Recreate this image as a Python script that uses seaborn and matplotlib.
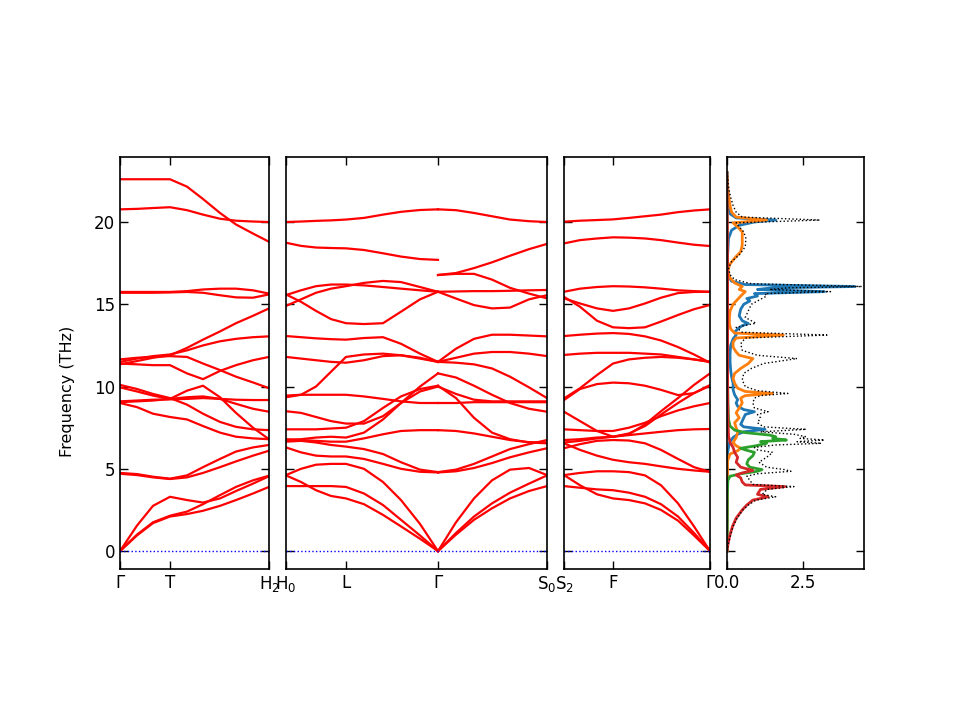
import matplotlib
matplotlib.use("Agg")
import matplotlib.pyplot as plt
import pandas as pd
import seaborn as sns

# ---------------- Panel 1 : Γ – T – H2 ----------------
P1_K = [0.00, 0.17, 0.33, 0.50, 0.67, 0.83, 1.00, 1.16, 1.33, 1.49]
P1_TICKS = [0.00, 0.50, 1.49]
P1_LABELS = ["Γ", "T", "H$_2$"]
P1_AC1 = [0.0, 1.55, 2.75, 3.30, 3.10, 2.95, 3.20, 3.65, 4.10, 4.55]
P1_AC2 = [0.0, 1.00, 1.75, 2.15, 2.40, 2.85, 3.40, 3.90, 4.30, 4.58]
P1_AC3 = [0.0, 0.95, 1.70, 2.10, 2.25, 2.45, 2.75, 3.10, 3.50, 3.90]
P1_O1 = [4.75, 4.68, 4.52, 4.40, 4.60, 5.10, 5.60, 6.05, 6.30, 6.45]
P1_O2 = [4.70, 4.62, 4.48, 4.38, 4.48, 4.75, 5.10, 5.45, 5.80, 6.10]
P1_O3 = [9.00, 8.75, 8.35, 8.15, 8.00, 7.60, 7.20, 6.95, 6.85, 6.80]
P1_O4 = [9.95, 9.70, 9.45, 9.25, 9.75, 10.05, 9.35, 8.40, 7.50, 6.80]
P1_O5 = [10.10, 9.85, 9.55, 9.30, 8.90, 8.35, 7.85, 7.55, 7.40, 7.35]
P1_O6 = [9.10, 9.15, 9.20, 9.22, 9.25, 9.30, 9.25, 9.20, 9.18, 9.18]
P1_O7 = [9.05, 9.10, 9.15, 9.25, 9.35, 9.40, 9.25, 8.95, 8.65, 8.47]
P1_O8 = [11.35, 11.55, 11.75, 11.90, 12.35, 12.85, 13.35, 13.85, 14.30, 14.75]
P1_O9 = [11.50, 11.70, 11.85, 11.95, 12.20, 12.50, 12.75, 12.90, 13.00, 13.05]
P1_O10 = [11.40, 11.35, 11.30, 11.30, 10.80, 10.45, 10.95, 11.30, 11.60, 11.80]
P1_O11 = [11.65, 11.75, 11.80, 11.85, 11.80, 11.40, 11.00, 10.60, 10.25, 9.90]
P1_O12 = [15.75, 15.75, 15.75, 15.75, 15.80, 15.90, 15.95, 15.95, 15.85, 15.65]
P1_O13 = [15.70, 15.70, 15.70, 15.72, 15.75, 15.70, 15.55, 15.42, 15.40, 15.60]
P1_O14 = [20.77, 20.80, 20.85, 20.90, 20.72, 20.45, 20.20, 20.08, 20.03, 20.00]
P1_O15 = [22.60, 22.60, 22.60, 22.60, 22.15, 21.40, 20.55, 19.85, 19.30, 18.80]

# ---------------- Panel 2 : H0 – L – Γ | Γ – S0 ----------------
P2_KA = [0.00, 0.15, 0.30, 0.45, 0.60, 0.78, 0.97, 1.15, 1.34, 1.52]
P2_KB = [1.52, 1.70, 1.88, 2.06, 2.24, 2.43, 2.61]
P2_TICKS = [0.00, 0.60, 1.52, 2.61]
P2_LABELS = ["H$_0$", "L", "Γ", "S$_0$"]
P2_AC3 = ([4.60, 4.20, 3.70, 3.35, 3.20, 2.85, 2.20, 1.50, 0.75, 0.0], [0.0, 1.00, 1.90, 2.60, 3.20, 3.65, 3.95])
P2_AC2 = ([3.95, 3.95, 3.95, 3.95, 3.90, 3.50, 2.80, 1.90, 0.95, 0.0], [0.0, 1.10, 2.10, 2.90, 3.55, 4.10, 4.60])
P2_AC1 = ([4.62, 5.00, 5.25, 5.30, 5.30, 5.00, 4.20, 3.10, 1.65, 0.0], [0.0, 1.75, 3.20, 4.30, 4.95, 5.05, 4.62])
P2_O1 = ([6.30, 6.00, 5.80, 5.75, 5.75, 5.60, 5.30, 5.00, 4.82, 4.78], [4.78, 4.85, 5.05, 5.35, 5.70, 6.00, 6.25])
P2_O2 = ([6.65, 6.70, 6.60, 6.45, 6.35, 6.20, 5.90, 5.40, 4.95, 4.80], [4.80, 4.95, 5.30, 5.75, 6.20, 6.50, 6.75])
P2_O3 = ([6.80, 6.75, 6.70, 6.65, 6.65, 6.85, 7.10, 7.30, 7.35, 7.35], [7.35, 7.30, 7.15, 6.95, 6.75, 6.62, 6.60])
P2_O4 = ([7.40, 7.40, 7.40, 7.45, 7.50, 7.90, 8.70, 9.40, 9.85, 10.05], [10.05, 9.30, 8.10, 7.20, 6.80, 6.60, 6.55])
P2_O5 = ([6.75, 6.80, 6.90, 6.95, 6.90, 7.20, 8.00, 9.00, 10.00, 10.80], [10.80, 10.55, 10.05, 9.50, 9.00, 8.65, 8.47])
P2_O6 = ([9.45, 9.50, 9.50, 9.50, 9.50, 9.40, 9.25, 9.10, 9.00, 9.00], [9.00, 9.00, 9.05, 9.05, 9.05, 9.05, 9.05])
P2_O7 = ([8.50, 8.40, 8.15, 7.90, 7.75, 7.75, 8.20, 9.00, 9.70, 10.00], [10.00, 9.55, 9.20, 9.10, 9.10, 9.10, 9.10])
P2_O8 = ([9.35, 9.50, 10.00, 10.90, 11.80, 11.95, 12.00, 11.90, 11.70, 11.50], [11.50, 11.75, 12.00, 12.10, 12.10, 12.00, 11.85])
P2_O9 = ([11.80, 11.70, 11.60, 11.50, 11.45, 11.60, 11.85, 11.90, 11.75, 11.50], [11.50, 11.45, 11.35, 11.10, 10.60, 9.95, 9.30])
P2_O10 = ([13.07, 13.00, 12.93, 12.88, 12.85, 12.95, 13.00, 12.60, 12.00, 11.50], [11.50, 12.30, 12.90, 13.15, 13.15, 13.10, 13.05])
P2_O11 = ([15.60, 15.15, 14.60, 14.10, 13.85, 13.80, 13.85, 14.55, 15.30, 15.76], [15.76, 15.35, 14.95, 14.75, 14.80, 15.30, 15.55])
P2_O12 = ([14.90, 15.30, 15.70, 15.95, 16.10, 16.30, 16.42, 16.35, 16.05, 15.76], [15.76, 15.78, 15.80, 15.80, 15.82, 15.85, 15.87])
P2_O13 = ([15.56, 15.85, 16.10, 16.20, 16.20, 16.15, 16.05, 15.95, 15.85, 15.76], [16.78, 16.85, 16.85, 16.50, 16.00, 15.65, 15.36])
P2_O14 = ([18.74, 18.55, 18.45, 18.42, 18.40, 18.30, 18.10, 17.90, 17.75, 17.70], [16.78, 16.90, 17.20, 17.55, 17.95, 18.35, 18.67])
P2_O15 = ([20.00, 20.03, 20.07, 20.10, 20.15, 20.25, 20.45, 20.62, 20.73, 20.77], [20.77, 20.72, 20.55, 20.35, 20.15, 20.05, 20.00])

# ---------------- Panel 3 : S2 – F – Γ ----------------
P3_K = [0.00, 0.16, 0.33, 0.49, 0.65, 0.81, 0.97, 1.14, 1.30, 1.46]
P3_TICKS = [0.00, 0.49, 1.46]
P3_LABELS = ["S$_2$", "F", "Γ"]
P3_AC1 = [4.62, 4.75, 4.85, 4.85, 4.80, 4.60, 4.00, 2.90, 1.50, 0.0]
P3_AC2 = [3.95, 3.85, 3.75, 3.70, 3.55, 3.30, 2.85, 2.10, 1.10, 0.0]
P3_AC3 = [4.62, 4.00, 3.45, 3.20, 3.10, 2.90, 2.50, 1.85, 0.95, 0.0]
P3_O1 = [6.55, 6.15, 5.80, 5.55, 5.40, 5.30, 5.15, 5.00, 4.90, 4.82]
P3_O2 = [6.25, 6.50, 6.70, 6.75, 6.72, 6.55, 6.15, 5.60, 5.10, 4.82]
P3_O3 = [6.75, 6.80, 6.90, 6.95, 7.05, 7.15, 7.25, 7.35, 7.40, 7.42]
P3_O4 = [7.40, 7.35, 7.30, 7.30, 7.50, 7.80, 8.20, 8.55, 8.80, 9.00]
P3_O5 = [6.60, 6.70, 6.85, 6.95, 7.15, 7.60, 8.30, 9.00, 9.60, 10.05]
P3_O6 = [8.47, 7.90, 7.30, 6.95, 7.10, 7.70, 8.50, 9.30, 10.10, 10.80]
P3_O7 = [9.18, 9.85, 10.15, 10.24, 10.20, 10.05, 9.80, 9.48, 9.60, 10.09]
P3_O8 = [9.28, 9.90, 10.70, 11.40, 11.65, 11.75, 11.80, 11.75, 11.65, 11.50]
P3_O9 = [11.92, 12.00, 12.05, 12.05, 12.05, 12.00, 11.95, 11.80, 11.65, 11.50]
P3_O10 = [13.07, 13.15, 13.22, 13.25, 13.20, 13.05, 12.80, 12.40, 11.95, 11.45]
P3_O11 = [15.76, 15.95, 16.05, 16.10, 16.08, 16.03, 15.95, 15.85, 15.80, 15.76]
P3_O12 = [15.36, 15.05, 14.75, 14.60, 14.75, 15.05, 15.40, 15.68, 15.75, 15.76]
P3_O13 = [15.45, 14.85, 14.00, 13.60, 13.55, 13.60, 13.95, 14.35, 14.70, 14.96]
P3_O14 = [18.70, 18.90, 19.00, 19.07, 19.05, 19.00, 18.90, 18.75, 18.62, 18.54]
P3_O15 = [20.02, 20.08, 20.12, 20.16, 20.25, 20.35, 20.45, 20.60, 20.70, 20.77]

# ---------------- Panel 4 : projected DOS ----------------
DOS_TICKS = [0.0, 2.5]
DOS_LABELS = ["0.0", "2.5"]
RED_F = [0.0, 0.5, 1.0, 1.5, 2.0, 2.5, 2.8, 3.1, 3.3, 3.45, 3.6, 3.75, 3.92, 4.02, 4.2, 4.45,
         4.62, 4.75, 4.9, 5.1, 5.4, 5.7, 6.0, 6.3, 6.6, 7.0, 8.0, 10.0, 13.0, 16.0, 20.0, 23.0]
RED_V = [0.0, 0.04, 0.1, 0.18, 0.3, 0.5, 0.65, 0.85, 1.35, 1.0, 1.05, 1.1, 1.9, 0.6, 0.5, 0.45,
         0.3, 0.5, 0.85, 0.45, 0.3, 0.35, 0.25, 0.2, 0.1, 0.05, 0.03, 0.02, 0.02, 0.02, 0.01, 0.0]
GREEN_F = [0.0, 3.5, 4.3, 4.55, 4.7, 4.85, 4.95, 5.1, 5.3, 5.55, 5.8, 6.0, 6.15, 6.25, 6.4,
           6.55, 6.65, 6.75, 6.85, 6.95, 7.05, 7.2, 7.35, 7.6, 8.0, 9.0, 12.0, 23.0]
GREEN_V = [0.0, 0.01, 0.03, 0.1, 0.45, 1.0, 1.15, 0.75, 0.65, 0.7, 0.85, 0.9, 0.6, 0.45, 0.95,
           1.3, 1.1, 1.95, 1.5, 1.6, 1.4, 0.6, 0.25, 0.1, 0.05, 0.03, 0.01, 0.0]
BLUE_F = [0.0, 6.0, 6.6, 6.9, 7.1, 7.25, 7.4, 7.55, 7.7, 7.9, 8.1, 8.3, 8.47, 8.6, 8.8, 9.0,
          9.2, 9.5, 9.8, 10.2, 10.6, 11.0, 11.5, 12.0, 12.5, 12.9, 13.13, 13.3, 13.5, 13.7,
          13.83, 14.0, 14.3, 14.7, 15.0, 15.2, 15.35, 15.5, 15.65, 15.77, 15.9, 16.0, 16.08,
          16.2, 16.4, 16.7, 17.0, 18.0, 19.0, 19.5, 19.8, 20.0, 20.12, 20.25, 20.5, 21.0, 22.0, 23.0]
BLUE_V = [0.0, 0.02, 0.08, 0.2, 0.35, 0.55, 1.25, 0.55, 0.45, 0.5, 0.55, 0.6, 0.9, 0.55, 0.35, 0.3,
          0.35, 0.25, 0.2, 0.2, 0.15, 0.12, 0.1, 0.1, 0.12, 0.2, 0.3, 0.25, 0.35, 0.5,
          0.7, 0.5, 0.4, 0.45, 0.55, 0.75, 0.65, 1.0, 0.9, 3.2, 1.0, 1.5, 4.2,
          0.6, 0.15, 0.05, 0.02, 0.02, 0.05, 0.15, 0.4, 0.9, 1.6, 0.3, 0.1, 0.05, 0.02, 0.0]
ORANGE_F = [0.0, 5.5, 5.9, 6.1, 6.25, 6.4, 6.6, 6.9, 7.2, 7.5, 7.8, 8.1, 8.4, 8.7, 9.0, 9.3,
            9.45, 9.58, 9.7, 9.9, 10.2, 10.5, 10.8, 11.1, 11.4, 11.7, 11.9, 12.1, 12.4, 12.7,
            12.95, 13.13, 13.25, 13.5, 13.8, 14.2, 14.6, 15.0, 15.3, 15.5, 15.77, 15.9, 16.08,
            16.3, 16.6, 17.0, 17.4, 17.8, 18.2, 18.6, 19.0, 19.4, 19.7, 19.95, 20.12, 20.3,
            20.6, 21.0, 21.5, 22.0, 22.7]
ORANGE_V = [0.0, 0.02, 0.1, 0.35, 0.45, 0.3, 0.2, 0.3, 0.35, 0.3, 0.25, 0.4, 0.3, 0.4, 0.5, 0.45,
            0.6, 1.5, 0.6, 0.35, 0.25, 0.2, 0.25, 0.45, 0.7, 0.85, 0.4, 0.3, 0.2, 0.2,
            0.3, 1.85, 0.25, 0.12, 0.08, 0.08, 0.1, 0.2, 0.35, 0.45, 0.6, 0.4, 0.5,
            0.25, 0.1, 0.03, 0.08, 0.25, 0.45, 0.5, 0.5, 0.5, 0.35, 0.2, 1.3, 0.3,
            0.15, 0.1, 0.06, 0.03, 0.0]
TOTAL_F = [0.0, 0.5, 1.0, 1.5, 2.0, 2.5, 2.8, 3.1, 3.3, 3.45, 3.6, 3.75, 3.92, 4.05, 4.3, 4.55,
           4.7, 4.85, 4.95, 5.1, 5.4, 5.7, 6.0, 6.15, 6.3, 6.45, 6.55, 6.65, 6.75, 6.85, 6.95,
           7.1, 7.25, 7.4, 7.55, 7.8, 8.1, 8.3, 8.47, 8.7, 9.0, 9.3, 9.45, 9.58, 9.75, 10.0,
           10.4, 10.8, 11.1, 11.4, 11.7, 11.9, 12.2, 12.6, 12.95, 13.13, 13.3, 13.6, 13.85,
           14.2, 14.6, 15.0, 15.3, 15.5, 15.65, 15.77, 15.9, 16.0, 16.08, 16.25, 16.5, 16.8,
           17.2, 17.6, 18.0, 18.5, 19.0, 19.4, 19.7, 19.95, 20.12, 20.3, 20.6, 21.0, 21.5,
           22.0, 22.7, 23.0]
TOTAL_V = [0.0, 0.05, 0.12, 0.2, 0.33, 0.52, 0.7, 0.95, 1.6, 1.15, 1.25, 1.3, 2.2, 0.85, 0.75, 0.65,
           1.0, 2.1, 1.9, 1.3, 1.05, 1.3, 1.5, 1.0, 0.9, 1.6, 3.1, 2.3, 3.2, 2.4, 2.6,
           2.2, 1.1, 2.6, 1.2, 1.0, 1.1, 1.0, 1.35, 0.9, 0.85, 0.9, 1.1, 2.0, 1.0, 0.6,
           0.5, 0.55, 0.8, 1.2, 2.3, 1.0, 0.5, 0.45, 0.6, 3.28, 0.5, 0.3, 0.95,
           0.6, 0.7, 0.8, 1.1, 1.3, 1.25, 3.4, 1.4, 2.0, 4.43, 0.8, 0.25, 0.1,
           0.05, 0.15, 0.4, 0.6, 0.62, 0.55, 0.4, 0.3, 3.05, 0.5, 0.3, 0.2, 0.12,
           0.06, 0.02, 0.0]

Y_TICKS = [0, 5, 10, 15, 20]
Y_RANGE = (-1.09, 23.95)

P1_BANDS = [P1_AC1, P1_AC2, P1_AC3, P1_O1, P1_O2, P1_O3, P1_O4, P1_O5, P1_O6, P1_O7,
            P1_O8, P1_O9, P1_O10, P1_O11, P1_O12, P1_O13, P1_O14, P1_O15]
P2_BANDS = [P2_AC1, P2_AC2, P2_AC3, P2_O1, P2_O2, P2_O3, P2_O4, P2_O5, P2_O6, P2_O7,
            P2_O8, P2_O9, P2_O10, P2_O11, P2_O12, P2_O13, P2_O14, P2_O15]
P3_BANDS = [P3_AC1, P3_AC2, P3_AC3, P3_O1, P3_O2, P3_O3, P3_O4, P3_O5, P3_O6, P3_O7,
            P3_O8, P3_O9, P3_O10, P3_O11, P3_O12, P3_O13, P3_O14, P3_O15]


def frame(segments):
    rows = []
    for uid, (ks, vals) in enumerate(segments):
        for k, v in zip(ks, vals):
            rows.append({"k": k, "freq": v, "unit": uid})
    return pd.DataFrame(rows)


fig = plt.figure(figsize=(9.6, 7.2), dpi=100)
bottom, height = 0.2097, 0.5722
ax1 = fig.add_axes([0.1250, bottom, 0.1552, height])
ax2 = fig.add_axes([0.2979, bottom, 0.2719, height])
ax3 = fig.add_axes([0.5875, bottom, 0.1521, height])
ax4 = fig.add_axes([0.7573, bottom, 0.1427, height])

df1 = frame([(P1_K, b) for b in P1_BANDS])
segs2 = []
for b in P2_BANDS:
    segs2.append((P2_KA, b[0]))
    segs2.append((P2_KB, b[1]))
df2 = frame(segs2)
df3 = frame([(P3_K, b) for b in P3_BANDS])

panels = [(ax1, df1, P1_TICKS, P1_LABELS, (P1_K[0], P1_K[-1])),
          (ax2, df2, P2_TICKS, P2_LABELS, (P2_KA[0], P2_KB[-1])),
          (ax3, df3, P3_TICKS, P3_LABELS, (P3_K[0], P3_K[-1]))]

for i, (ax, df, ticks, labels, xr) in enumerate(panels):
    sns.lineplot(data=df, x="k", y="freq", units="unit", estimator=None, sort=False,
                 color="red", linewidth=1.6, ax=ax, legend=False)
    ax.axhline(0, color="blue", linestyle=":", linewidth=1.0)
    ax.set_xlim(*xr)
    ax.set_ylim(*Y_RANGE)
    ax.set_xticks(ticks)
    ax.set_xticklabels(labels)
    ax.set_yticks(Y_TICKS)
    ax.set_xlabel("")
    ax.set_ylabel("")
    if i > 0:
        ax.tick_params(labelleft=False)

ax1.set_ylabel("Frequency (THz)", fontsize=11.5)
ax1.yaxis.set_label_coords(-0.30, 0.43)

dos_sets = [(BLUE_F, BLUE_V, "#1f77b4"), (ORANGE_F, ORANGE_V, "#ff7f0e"),
            (GREEN_F, GREEN_V, "#2ca02c"), (RED_F, RED_V, "#d62728")]
for f, v, c in dos_sets:
    sns.lineplot(x=v, y=f, sort=False, estimator=None, orient="y", color=c,
                 linewidth=2.0, ax=ax4)
sns.lineplot(x=TOTAL_V, y=TOTAL_F, sort=False, estimator=None, orient="y", color="black",
             linestyle=":", linewidth=1.0, ax=ax4)
ax4.set_xlim(0, 4.5)
ax4.set_ylim(*Y_RANGE)
ax4.set_xticks(DOS_TICKS)
ax4.set_xticklabels(DOS_LABELS)
ax4.set_yticks(Y_TICKS)
ax4.tick_params(labelleft=False)
ax4.set_xlabel("")
ax4.set_ylabel("")

for ax in (ax1, ax2, ax3, ax4):
    ax.tick_params(axis="both", direction="in", top=True, right=True, length=6,
                   width=1.0, labelsize=12)
    for s in ax.spines.values():
        s.set_linewidth(1.2)

fig.savefig("out.png", dpi=100)
